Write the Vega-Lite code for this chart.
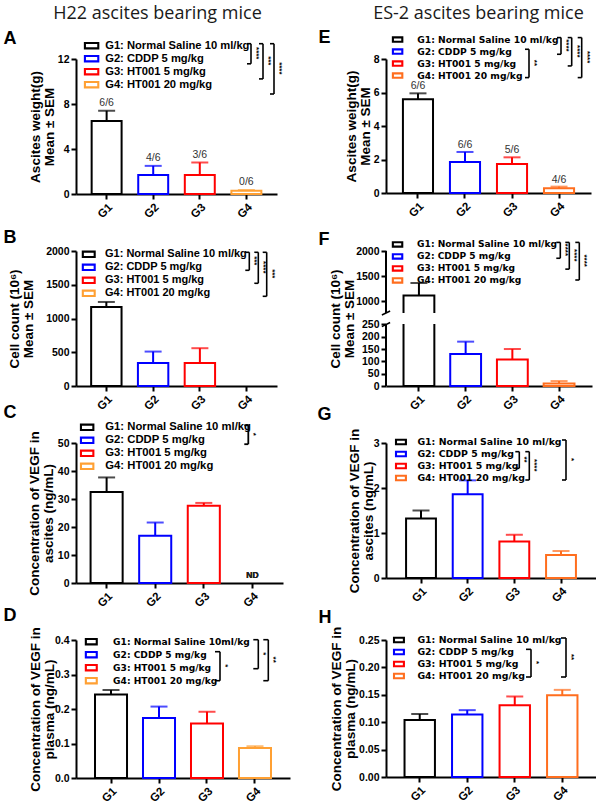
{
  "$schema": "https://vega.github.io/schema/vega-lite/v6.json",
  "background": "white",
  "padding": {"left": 3, "top": 4, "right": 0, "bottom": 0},
  "columns": 2,
  "spacing": {"row": 57, "column": 96},
  "bounds": "flush",
  "resolve": {
    "scale": {"stroke": "independent", "color": "independent"},
    "legend": {"stroke": "independent", "color": "independent"}
  },
  "datasets": {
    "A": [
      {"g": "G1", "mean": 6.5, "err": 7.4, "n": "6/6"},
      {"g": "G2", "mean": 1.7, "err": 2.5, "n": "4/6"},
      {"g": "G3", "mean": 1.7, "err": 2.8, "n": "3/6"},
      {"g": "G4", "mean": 0.3, "err": 0.35, "n": "0/6"}
    ],
    "B": [
      {"g": "G1", "mean": 1170, "err": 1245},
      {"g": "G2", "mean": 340, "err": 510},
      {"g": "G3", "mean": 340, "err": 560}
    ],
    "C": [
      {"g": "G1", "mean": 32.5, "err": 37.7},
      {"g": "G2", "mean": 16.9, "err": 21.6},
      {"g": "G3", "mean": 27.6, "err": 28.6}
    ],
    "D": [
      {"g": "G1", "mean": 0.242, "err": 0.255},
      {"g": "G2", "mean": 0.174, "err": 0.207},
      {"g": "G3", "mean": 0.158, "err": 0.192},
      {"g": "G4", "mean": 0.087, "err": 0.092}
    ],
    "E": [
      {"g": "G1", "mean": 5.6, "err": 5.95, "n": "6/6"},
      {"g": "G2", "mean": 1.85, "err": 2.45, "n": "6/6"},
      {"g": "G3", "mean": 1.73, "err": 2.13, "n": "5/6"},
      {"g": "G4", "mean": 0.28, "err": 0.38, "n": "4/6"}
    ],
    "F": [
      {"g": "G1", "mean": 1110, "err": 1360},
      {"g": "G2", "mean": 130, "err": 180},
      {"g": "G3", "mean": 108, "err": 150},
      {"g": "G4", "mean": 10, "err": 20}
    ],
    "G": [
      {"g": "G1", "mean": 1.32, "err": 1.5},
      {"g": "G2", "mean": 1.86, "err": 2.17},
      {"g": "G3", "mean": 0.81, "err": 0.96},
      {"g": "G4", "mean": 0.51, "err": 0.6}
    ],
    "H": [
      {"g": "G1", "mean": 0.104, "err": 0.115},
      {"g": "G2", "mean": 0.114, "err": 0.122},
      {"g": "G3", "mean": 0.131, "err": 0.147},
      {"g": "G4", "mean": 0.149, "err": 0.159}
    ],
    "Ab": [
      {"a": 1, "b": 2, "m": 1.5, "lvl": 1, "p": "****"},
      {"a": 1, "b": 3, "m": 2, "lvl": 2, "p": "***"},
      {"a": 1, "b": 4, "m": 2.5, "lvl": 3, "p": "****"}
    ],
    "Bb": [
      {"a": 1, "b": 2, "m": 1.5, "lvl": 1, "p": "***"},
      {"a": 1, "b": 3, "m": 2, "lvl": 2, "p": "****"},
      {"a": 1, "b": 4, "m": 2.5, "lvl": 3, "p": "***"}
    ],
    "Cb": [
      {"a": 1, "b": 2, "m": 1.5, "lvl": 1, "p": "*"}
    ],
    "Db": [
      {"a": 2, "b": 4, "m": 3, "lvl": 1, "p": "*"},
      {"a": 1, "b": 3, "m": 2, "lvl": 2, "p": "*"},
      {"a": 1, "b": 4, "m": 2.5, "lvl": 3, "p": "**"}
    ],
    "Eb": [
      {"a": 2, "b": 4, "m": 3, "lvl": 1, "p": "**"},
      {"a": 1, "b": 2, "m": 1.5, "lvl": 2, "p": "****"},
      {"a": 1, "b": 3, "m": 2, "lvl": 3, "p": "****"},
      {"a": 1, "b": 4, "m": 2.5, "lvl": 4, "p": "****"}
    ],
    "Fb": [
      {"a": 1, "b": 2, "m": 1.5, "lvl": 1, "p": "****"},
      {"a": 1, "b": 3, "m": 2, "lvl": 2, "p": "****"},
      {"a": 1, "b": 4, "m": 2.5, "lvl": 3, "p": "****"}
    ],
    "Gb": [
      {"a": 2, "b": 3, "m": 2.5, "lvl": 1, "p": "**"},
      {"a": 2, "b": 4, "m": 3, "lvl": 2, "p": "****"},
      {"a": 1, "b": 4, "m": 2.5, "lvl": 3, "p": "*"}
    ],
    "Hb": [
      {"a": 2, "b": 4, "m": 3, "lvl": 1, "p": "*"},
      {"a": 1, "b": 4, "m": 2.5, "lvl": 2, "p": "**"}
    ]
  },
  "concat": [
    {
      "width": 201,
      "height": 135,
      "resolve": {"scale": {"x": "independent", "y": "independent"}, "axis": {"x": "independent", "y": "independent"}},
      "layer": [
        {
          "data": {"name": "A"},
          "encoding": {
            "x": {"field": "g", "type": "nominal", "title": null, "scale": {"domain": ["G1", "G2", "G3", "G4"], "paddingInner": 0.357, "paddingOuter": 0.336}},
            "y": {"field": "mean", "type": "quantitative", "title": ["Ascites weight(g)", "Mean ± SEM"], "scale": {"domain": [0, 12], "nice": false}, "axis": {"values": [0, 4, 8, 12], "titlePadding": 0.5}}
          },
          "layer": [
            {
              "mark": {"type": "bar", "filled": false, "strokeWidth": 2},
              "encoding": {
                "stroke": {
                  "field": "g", "type": "nominal",
                  "scale": {"domain": ["G1", "G2", "G3", "G4"], "range": ["#000000", "#0000ff", "#ff0000", "#ffa033"]},
                  "legend": {
                    "title": null, "orient": "none", "legendX": 10, "legendY": -18.9, "direction": "vertical",
                    "symbolType": "M-2.33,-1H2.33V1H-2.33Z M-2.13,-0.8V0.8H2.13V-0.8Z", "symbolSize": 36, "symbolStrokeWidth": 1.5,
                    "labelOffset": 8, "rowPadding": 0, "padding": 0, "labelLimit": 400,
                    "labelFont": "Liberation Sans", "labelFontWeight": "bold", "labelFontSize": 11.2, "labelColor": "black",
                    "labelExpr": "datum.label == 'G1' ? 'G1: Normal Saline 10 ml/kg' : datum.label == 'G2' ? 'G2: CDDP 5 mg/kg' : datum.label == 'G3' ? 'G3: HT001 5 mg/kg' : 'G4: HT001 20 mg/kg'"
                  }
                }
              }
            },
            {
              "mark": {"type": "rule", "strokeWidth": 2},
              "encoding": {"y2": {"field": "err"}, "stroke": {"field": "g", "type": "nominal", "legend": null}}
            },
            {
              "mark": {"type": "tick", "size": 17, "thickness": 2},
              "encoding": {
                "y": {"field": "err", "type": "quantitative"},
                "color": {"field": "g", "type": "nominal", "legend": null, "scale": {"domain": ["G1", "G2", "G3", "G4"], "range": ["#000000", "#0000ff", "#ff0000", "#ffa033"]}}
              }
            },
            {
              "mark": {"type": "text", "baseline": "bottom", "dy": -3, "fontSize": 10.5, "color": "#333333"},
              "encoding": {"y": {"field": "err", "type": "quantitative"}, "text": {"field": "n"}}
            }
          ]
        },
        {
          "data": {"name": "Ab"},
          "encoding": {
            "x": {"field": "lvl", "type": "quantitative", "scale": {"domain": [1, 2, 3], "range": [175, 187, 198], "zero": false, "nice": false},
              "axis": {"orient": "top", "domain": false, "ticks": false, "labels": false, "title": "H22 ascites bearing mice", "titleFont": "Open Sans", "titleFontSize": 18, "titleFontWeight": "normal", "titleColor": "#1a1a1a", "titleX": 81, "titleY": -40.5, "titleAlign": "center", "titleBaseline": "alphabetic", "titleAngle": 0}},
            "y": {"field": "a", "type": "quantitative", "scale": {"domain": [1, 4], "range": [-13.3, 32], "zero": false, "nice": false},
              "axis": {"orient": "left", "domain": false, "ticks": false, "labels": false, "title": "A", "titleFontSize": 18, "titleFontWeight": "bold", "titleX": -73, "titleY": -15.3, "titleAlign": "left", "titleBaseline": "alphabetic", "titleAngle": 0}}
          },
          "layer": [
            {"mark": {"type": "rule", "strokeWidth": 1.6, "color": "black", "yOffset": -2, "y2Offset": 3}, "encoding": {"y2": {"field": "b"}}},
            {"mark": {"type": "rule", "strokeWidth": 1.6, "color": "black", "xOffset": -4, "yOffset": -2}, "encoding": {"x2": {"field": "lvl"}}},
            {"mark": {"type": "rule", "strokeWidth": 1.6, "color": "black", "xOffset": -4, "yOffset": 3}, "encoding": {"y": {"field": "b", "type": "quantitative"}, "x2": {"field": "lvl"}}},
            {"mark": {"type": "text", "angle": 90, "xOffset": 5, "fontSize": 8, "fontWeight": "bold", "color": "black"}, "encoding": {"y": {"field": "m", "type": "quantitative"}, "text": {"field": "p"}}}
          ]
        }
      ]
    },
    {
      "width": 205,
      "height": 134,
      "resolve": {"scale": {"x": "independent", "y": "independent"}, "axis": {"x": "independent", "y": "independent"}},
      "layer": [
        {
          "data": {"name": "E"},
          "encoding": {
            "x": {"field": "g", "type": "nominal", "title": null, "scale": {"domain": ["G1", "G2", "G3", "G4"], "paddingInner": 0.36, "paddingOuter": 0.36}},
            "y": {"field": "mean", "type": "quantitative", "title": ["Ascites weight(g)", "Mean ± SEM"], "scale": {"domain": [0, 8], "nice": false}, "axis": {"values": [0, 2, 4, 6, 8], "titlePadding": 0.2}}
          },
          "layer": [
            {
              "mark": {"type": "bar", "filled": false, "strokeWidth": 2},
              "encoding": {
                "stroke": {
                  "field": "g", "type": "nominal",
                  "scale": {"domain": ["G1", "G2", "G3", "G4"], "range": ["#000000", "#0000ff", "#ff0000", "#ff6e1e"]},
                  "legend": {
                    "title": null, "orient": "none", "legendX": 7, "legendY": -24, "direction": "vertical",
                    "symbolType": "M-1.67,-0.83H1.67V0.83H-1.67Z M-1.47,-0.63V0.63H1.47V-0.63Z", "symbolSize": 36, "symbolStrokeWidth": 1.5,
                    "labelOffset": 15, "rowPadding": 0, "padding": 0, "labelLimit": 400,
                    "labelFont": "DejaVu Sans", "labelFontWeight": "bold", "labelFontSize": 9.2, "labelColor": "black",
                    "labelExpr": "datum.label == 'G1' ? 'G1: Normal Saline 10 ml/kg' : datum.label == 'G2' ? 'G2: CDDP 5 mg/kg' : datum.label == 'G3' ? 'G3: HT001 5 mg/kg' : 'G4: HT001 20 mg/kg'"
                  }
                }
              }
            },
            {
              "mark": {"type": "rule", "strokeWidth": 2},
              "encoding": {"y2": {"field": "err"}, "stroke": {"field": "g", "type": "nominal", "legend": null}}
            },
            {
              "mark": {"type": "tick", "size": 17, "thickness": 2},
              "encoding": {
                "y": {"field": "err", "type": "quantitative"},
                "color": {"field": "g", "type": "nominal", "legend": null, "scale": {"domain": ["G1", "G2", "G3", "G4"], "range": ["#000000", "#0000ff", "#ff0000", "#ff6e1e"]}}
              }
            },
            {
              "mark": {"type": "text", "baseline": "bottom", "dy": -2, "fontSize": 10.5, "color": "#333333"},
              "encoding": {"y": {"field": "err", "type": "quantitative"}, "text": {"field": "n"}}
            }
          ]
        },
        {
          "data": {"name": "Eb"},
          "encoding": {
            "x": {"field": "lvl", "type": "quantitative", "scale": {"domain": [1, 2, 3, 4], "range": [143, 175, 185.7, 195.7], "zero": false, "nice": false},
              "axis": {"orient": "top", "domain": false, "ticks": false, "labels": false, "title": "ES-2 ascites bearing mice", "titleFont": "Open Sans", "titleFontSize": 18, "titleFontWeight": "normal", "titleColor": "#1a1a1a", "titleX": 92, "titleY": -40.7, "titleAlign": "center", "titleBaseline": "alphabetic", "titleAngle": 0}},
            "y": {"field": "a", "type": "quantitative", "scale": {"domain": [1, 4], "range": [-19.4, 15.6], "zero": false, "nice": false},
              "axis": {"orient": "left", "domain": false, "ticks": false, "labels": false, "title": "E", "titleFontSize": 18, "titleFontWeight": "bold", "titleX": -68, "titleY": -17, "titleAlign": "left", "titleBaseline": "alphabetic", "titleAngle": 0}}
          },
          "layer": [
            {"mark": {"type": "rule", "strokeWidth": 1.6, "color": "black", "yOffset": -2, "y2Offset": 3}, "encoding": {"y2": {"field": "b"}}},
            {"mark": {"type": "rule", "strokeWidth": 1.6, "color": "black", "xOffset": -4, "yOffset": -2}, "encoding": {"x2": {"field": "lvl"}}},
            {"mark": {"type": "rule", "strokeWidth": 1.6, "color": "black", "xOffset": -4, "yOffset": 3}, "encoding": {"y": {"field": "b", "type": "quantitative"}, "x2": {"field": "lvl"}}},
            {"mark": {"type": "text", "angle": 90, "xOffset": 5, "fontSize": 8, "fontWeight": "bold", "color": "black"}, "encoding": {"y": {"field": "m", "type": "quantitative"}, "text": {"field": "p"}}}
          ]
        }
      ]
    },
    {
      "width": 201,
      "height": 135,
      "resolve": {"scale": {"x": "independent", "y": "independent"}, "axis": {"x": "independent", "y": "independent"}},
      "layer": [
        {
          "data": {"name": "B"},
          "encoding": {
            "x": {"field": "g", "type": "nominal", "title": null, "scale": {"domain": ["G1", "G2", "G3", "G4"], "paddingInner": 0.35, "paddingOuter": 0.324}},
            "y": {"field": "mean", "type": "quantitative", "title": ["Cell count (10⁶)", "Mean ± SEM"], "scale": {"domain": [0, 2000], "nice": false}, "axis": {"values": [0, 500, 1000, 1500, 2000], "format": "d", "titlePadding": 10.6}}
          },
          "layer": [
            {
              "mark": {"type": "bar", "filled": false, "strokeWidth": 2},
              "encoding": {
                "stroke": {
                  "field": "g", "type": "nominal",
                  "scale": {"domain": ["G1", "G2", "G3", "G4"], "range": ["#000000", "#0000ff", "#ff0000", "#ffa033"]},
                  "legend": {
                    "title": null, "orient": "none", "legendX": 7.25, "legendY": -2.2, "direction": "vertical",
                    "symbolType": "M-2.08,-1H2.08V1H-2.08Z M-1.88,-0.8V0.8H1.88V-0.8Z", "symbolSize": 36, "symbolStrokeWidth": 1.5,
                    "labelOffset": 10.75, "rowPadding": 0, "padding": 0, "labelLimit": 400,
                    "labelFont": "Liberation Sans", "labelFontWeight": "bold", "labelFontSize": 11, "labelColor": "black",
                    "labelExpr": "datum.label == 'G1' ? 'G1: Normal Saline 10 ml/kg' : datum.label == 'G2' ? 'G2: CDDP 5 mg/kg' : datum.label == 'G3' ? 'G3: HT001 5 mg/kg' : 'G4: HT001 20 mg/kg'"
                  }
                }
              }
            },
            {
              "mark": {"type": "rule", "strokeWidth": 2},
              "encoding": {"y2": {"field": "err"}, "stroke": {"field": "g", "type": "nominal", "legend": null}}
            },
            {
              "mark": {"type": "tick", "size": 17, "thickness": 2},
              "encoding": {
                "y": {"field": "err", "type": "quantitative"},
                "color": {"field": "g", "type": "nominal", "legend": null, "scale": {"domain": ["G1", "G2", "G3", "G4"], "range": ["#000000", "#0000ff", "#ff0000", "#ffa033"]}}
              }
            }
          ]
        },
        {
          "data": {"name": "Bb"},
          "encoding": {
            "x": {"field": "lvl", "type": "quantitative", "scale": {"domain": [1, 2, 3], "range": [173.3, 182.3, 190.7], "zero": false, "nice": false}, "axis": null},
            "y": {"field": "a", "type": "quantitative", "scale": {"domain": [1, 4], "range": [3.3, 42.3], "zero": false, "nice": false},
              "axis": {"orient": "left", "domain": false, "ticks": false, "labels": false, "title": "B", "titleFontSize": 18, "titleFontWeight": "bold", "titleX": -73, "titleY": -8.7, "titleAlign": "left", "titleBaseline": "alphabetic", "titleAngle": 0}}
          },
          "layer": [
            {"mark": {"type": "rule", "strokeWidth": 1.6, "color": "black", "yOffset": -2, "y2Offset": 3}, "encoding": {"y2": {"field": "b"}}},
            {"mark": {"type": "rule", "strokeWidth": 1.6, "color": "black", "xOffset": -4, "yOffset": -2}, "encoding": {"x2": {"field": "lvl"}}},
            {"mark": {"type": "rule", "strokeWidth": 1.6, "color": "black", "xOffset": -4, "yOffset": 3}, "encoding": {"y": {"field": "b", "type": "quantitative"}, "x2": {"field": "lvl"}}},
            {"mark": {"type": "text", "angle": 90, "xOffset": 5, "fontSize": 8, "fontWeight": "bold", "color": "black"}, "encoding": {"y": {"field": "m", "type": "quantitative"}, "text": {"field": "p"}}}
          ]
        }
      ]
    },
    {
      "width": 206,
      "height": 135,
      "resolve": {"scale": {"x": "independent", "y": "independent"}, "axis": {"x": "independent", "y": "independent"}},
      "layer": [
        {
          "data": {"name": "F"},
          "resolve": {"scale": {"x": "independent"}, "axis": {"x": "independent"}},
          "layer": [
            {
              "mark": {"type": "bar", "filled": false, "strokeWidth": 2},
              "encoding": {
                "x": {"field": "g", "type": "nominal", "title": null, "scale": {"domain": ["G1", "G2", "G3", "G4"], "paddingInner": 0.34, "paddingOuter": 0.375}},
                "y": {"field": "mean", "type": "quantitative", "title": ["Cell count (10⁶)", "Mean ± SEM"], "scale": {"domain": [0, 250, 760, 2000], "range": [135, 73.4, 62, 0], "nice": false, "zero": false}, "axis": {"values": [0, 50, 100, 150, 200, 250, 1000, 1500, 2000], "format": "d", "domain": false, "labelOverlap": false, "titlePadding": -0.4}},
                "stroke": {
                  "field": "g", "type": "nominal",
                  "scale": {"domain": ["G1", "G2", "G3", "G4"], "range": ["#000000", "#0000ff", "#ff0000", "#ff6e1e"]},
                  "legend": {
                    "title": null, "orient": "none", "legendX": 7, "legendY": -11.15, "direction": "vertical",
                    "symbolType": "M-1.67,-0.83H1.67V0.83H-1.67Z M-1.47,-0.63V0.63H1.47V-0.63Z", "symbolSize": 36, "symbolStrokeWidth": 1.5,
                    "labelOffset": 15, "rowPadding": 0, "padding": 0, "labelLimit": 400,
                    "labelFont": "DejaVu Sans", "labelFontWeight": "bold", "labelFontSize": 9.1, "labelColor": "black",
                    "labelExpr": "datum.label == 'G1' ? 'G1: Normal Saline 10 ml/kg' : datum.label == 'G2' ? 'G2: CDDP 5 mg/kg' : datum.label == 'G3' ? 'G3: HT001 5 mg/kg' : 'G4: HT001 20 mg/kg'"
                  }
                }
              }
            },
            {
              "mark": {"type": "rule", "strokeWidth": 2},
              "encoding": {
                "x": {"field": "g", "type": "nominal", "axis": null, "scale": {"domain": ["G1", "G2", "G3", "G4"], "paddingInner": 0.34, "paddingOuter": 0.375}},
                "y": {"field": "mean", "type": "quantitative", "title": ["Cell count (10⁶)", "Mean ± SEM"], "axis": {"values": [0, 50, 100, 150, 200, 250, 1000, 1500, 2000], "format": "d", "domain": false, "labelOverlap": false, "titlePadding": -0.4}},
                "y2": {"field": "err"},
                "stroke": {"field": "g", "type": "nominal", "legend": null}
              }
            },
            {
              "mark": {"type": "tick", "size": 17, "thickness": 2},
              "encoding": {
                "x": {"field": "g", "type": "nominal", "axis": null, "scale": {"domain": ["G1", "G2", "G3", "G4"], "paddingInner": 0.34, "paddingOuter": 0.375}},
                "y": {"field": "err", "type": "quantitative", "title": ["Cell count (10⁶)", "Mean ± SEM"], "axis": {"values": [0, 50, 100, 150, 200, 250, 1000, 1500, 2000], "format": "d", "domain": false, "labelOverlap": false, "titlePadding": -0.4}},
                "color": {"field": "g", "type": "nominal", "legend": null, "scale": {"domain": ["G1", "G2", "G3", "G4"], "range": ["#000000", "#0000ff", "#ff0000", "#ff6e1e"]}}
              }
            },
            {
              "data": {"values": [{}]},
              "mark": {"type": "rect", "color": "white", "xOffset": -4, "x2Offset": -4},
              "encoding": {"y": {"datum": 265, "type": "quantitative", "title": ["Cell count (10⁶)", "Mean ± SEM"], "axis": {"values": [0, 50, 100, 150, 200, 250, 1000, 1500, 2000], "format": "d", "domain": false, "labelOverlap": false, "titlePadding": -0.4}}, "y2": {"datum": 757}}
            },
            {
              "data": {"values": [{}]},
              "mark": {"type": "rule", "strokeWidth": 2, "color": "black"},
              "encoding": {"x": {"datum": 0, "type": "quantitative", "scale": {"domain": [0, 1]}, "axis": null}, "y": {"datum": 0, "type": "quantitative", "title": ["Cell count (10⁶)", "Mean ± SEM"], "axis": {"values": [0, 50, 100, 150, 200, 250, 1000, 1500, 2000], "format": "d", "domain": false, "labelOverlap": false, "titlePadding": -0.4}}, "y2": {"datum": 262}}
            },
            {
              "data": {"values": [{}]},
              "mark": {"type": "rule", "strokeWidth": 2, "color": "black"},
              "encoding": {"x": {"datum": 0, "type": "quantitative", "scale": {"domain": [0, 1]}, "axis": null}, "y": {"datum": 760, "type": "quantitative", "title": ["Cell count (10⁶)", "Mean ± SEM"], "axis": {"values": [0, 50, 100, 150, 200, 250, 1000, 1500, 2000], "format": "d", "domain": false, "labelOverlap": false, "titlePadding": -0.4}}, "y2": {"datum": 2000}}
            },
            {
              "data": {"values": [{}]},
              "mark": {"type": "rule", "strokeWidth": 1.5, "color": "black"},
              "encoding": {"x": {"datum": -0.02, "type": "quantitative", "scale": {"domain": [0, 1]}, "axis": null}, "x2": {"datum": 0.02}, "y": {"datum": 670, "type": "quantitative", "title": ["Cell count (10⁶)", "Mean ± SEM"], "axis": {"values": [0, 50, 100, 150, 200, 250, 1000, 1500, 2000], "format": "d", "domain": false, "labelOverlap": false, "titlePadding": -0.4}}, "y2": {"datum": 800}}
            },
            {
              "data": {"values": [{}]},
              "mark": {"type": "rule", "strokeWidth": 1.5, "color": "black"},
              "encoding": {"x": {"datum": -0.02, "type": "quantitative", "scale": {"domain": [0, 1]}, "axis": null}, "x2": {"datum": 0.02}, "y": {"datum": 241, "type": "quantitative", "title": ["Cell count (10⁶)", "Mean ± SEM"], "axis": {"values": [0, 50, 100, 150, 200, 250, 1000, 1500, 2000], "format": "d", "domain": false, "labelOverlap": false, "titlePadding": -0.4}}, "y2": {"datum": 335}}
            }
          ]
        },
        {
          "data": {"name": "Fb"},
          "encoding": {
            "x": {"field": "lvl", "type": "quantitative", "scale": {"domain": [1, 2, 3], "range": [174.3, 183.3, 193.3], "zero": false, "nice": false}, "axis": null},
            "y": {"field": "a", "type": "quantitative", "scale": {"domain": [1, 4], "range": [-6.6, 26], "zero": false, "nice": false},
              "axis": {"orient": "left", "domain": false, "ticks": false, "labels": false, "title": "F", "titleFontSize": 18, "titleFontWeight": "bold", "titleX": -68, "titleY": -6.3, "titleAlign": "left", "titleBaseline": "alphabetic", "titleAngle": 0}}
          },
          "layer": [
            {"mark": {"type": "rule", "strokeWidth": 1.6, "color": "black", "yOffset": -2, "y2Offset": 3}, "encoding": {"y2": {"field": "b"}}},
            {"mark": {"type": "rule", "strokeWidth": 1.6, "color": "black", "xOffset": -4, "yOffset": -2}, "encoding": {"x2": {"field": "lvl"}}},
            {"mark": {"type": "rule", "strokeWidth": 1.6, "color": "black", "xOffset": -4, "yOffset": 3}, "encoding": {"y": {"field": "b", "type": "quantitative"}, "x2": {"field": "lvl"}}},
            {"mark": {"type": "text", "angle": 90, "xOffset": 5, "fontSize": 8, "fontWeight": "bold", "color": "black"}, "encoding": {"y": {"field": "m", "type": "quantitative"}, "text": {"field": "p"}}}
          ]
        }
      ]
    },
    {
      "width": 207,
      "height": 140,
      "resolve": {"scale": {"x": "independent", "y": "independent"}, "axis": {"x": "independent", "y": "independent"}},
      "layer": [
        {
          "data": {"name": "C"},
          "encoding": {
            "x": {"field": "g", "type": "nominal", "title": null, "scale": {"domain": ["G1", "G2", "G3", "G4"], "paddingInner": 0.34, "paddingOuter": 0.3}},
            "y": {"field": "mean", "type": "quantitative", "title": ["Concentration of VEGF in", "ascites (ng/mL)"], "scale": {"domain": [0, 50], "nice": false}, "axis": {"values": [0, 10, 20, 30, 40, 50], "titlePadding": 2.3}}
          },
          "layer": [
            {
              "mark": {"type": "bar", "filled": false, "strokeWidth": 2},
              "encoding": {
                "stroke": {
                  "field": "g", "type": "nominal",
                  "scale": {"domain": ["G1", "G2", "G3", "G4"], "range": ["#000000", "#0000ff", "#ff0000", "#ffa033"]},
                  "legend": {
                    "title": null, "orient": "none", "legendX": 5.5, "legendY": -21.35, "direction": "vertical",
                    "symbolType": "M-2.17,-1H2.17V1H-2.17Z M-1.97,-0.8V0.8H1.97V-0.8Z", "symbolSize": 36, "symbolStrokeWidth": 1.5,
                    "labelOffset": 12.5, "rowPadding": 0, "padding": 0, "labelLimit": 400,
                    "labelFont": "Liberation Sans", "labelFontWeight": "bold", "labelFontSize": 11.3, "labelColor": "black",
                    "labelExpr": "datum.label == 'G1' ? 'G1: Normal Saline 10 ml/kg' : datum.label == 'G2' ? 'G2: CDDP 5 mg/kg' : datum.label == 'G3' ? 'G3: HT001 5 mg/kg' : 'G4: HT001 20 mg/kg'"
                  }
                }
              }
            },
            {
              "mark": {"type": "rule", "strokeWidth": 2},
              "encoding": {"y2": {"field": "err"}, "stroke": {"field": "g", "type": "nominal", "legend": null}}
            },
            {
              "mark": {"type": "tick", "size": 17, "thickness": 2},
              "encoding": {
                "y": {"field": "err", "type": "quantitative"},
                "color": {"field": "g", "type": "nominal", "legend": null, "scale": {"domain": ["G1", "G2", "G3", "G4"], "range": ["#000000", "#0000ff", "#ff0000", "#ffa033"]}}
              }
            },
            {
              "mark": {"type": "text", "text": "ND", "baseline": "bottom", "dy": -3, "fontSize": 8.5, "fontWeight": "bold", "color": "#222222"},
              "encoding": {"x": {"datum": "G4", "type": "nominal"}, "y": {"datum": 0, "type": "quantitative"}}
            }
          ]
        },
        {
          "data": {"name": "Cb"},
          "encoding": {
            "x": {"field": "lvl", "type": "quantitative", "scale": {"domain": [1, 2], "range": [172.3, 182.3], "zero": false, "nice": false}, "axis": null},
            "y": {"field": "a", "type": "quantitative", "scale": {"domain": [1, 4], "range": [-15.7, 26], "zero": false, "nice": false},
              "axis": {"orient": "left", "domain": false, "ticks": false, "labels": false, "title": "C", "titleFontSize": 18, "titleFontWeight": "bold", "titleX": -73, "titleY": -25.7, "titleAlign": "left", "titleBaseline": "alphabetic", "titleAngle": 0}}
          },
          "layer": [
            {"mark": {"type": "rule", "strokeWidth": 1.8, "color": "black", "yOffset": -2, "y2Offset": 3}, "encoding": {"y2": {"field": "b"}}},
            {"mark": {"type": "rule", "strokeWidth": 1.8, "color": "black", "xOffset": -4, "yOffset": -2}, "encoding": {"x2": {"field": "lvl"}}},
            {"mark": {"type": "rule", "strokeWidth": 1.8, "color": "black", "xOffset": -4, "yOffset": 3}, "encoding": {"y": {"field": "b", "type": "quantitative"}, "x2": {"field": "lvl"}}},
            {"mark": {"type": "text", "angle": 90, "xOffset": 5, "fontSize": 8, "fontWeight": "bold", "color": "black"}, "encoding": {"y": {"field": "m", "type": "quantitative"}, "text": {"field": "p"}}}
          ]
        }
      ]
    },
    {
      "width": 210,
      "height": 135,
      "resolve": {"scale": {"x": "independent", "y": "independent"}, "axis": {"x": "independent", "y": "independent"}},
      "layer": [
        {
          "data": {"name": "G"},
          "encoding": {
            "x": {"field": "g", "type": "nominal", "title": null, "scale": {"domain": ["G1", "G2", "G3", "G4"], "paddingInner": 0.36, "paddingOuter": 0.43}},
            "y": {"field": "mean", "type": "quantitative", "title": ["Concentration of VEGF in", "ascites (ng/mL)"], "scale": {"domain": [0, 3], "nice": false}, "axis": {"values": [0, 1, 2, 3], "titlePadding": -2.8}}
          },
          "layer": [
            {
              "mark": {"type": "bar", "filled": false, "strokeWidth": 2},
              "encoding": {
                "stroke": {
                  "field": "g", "type": "nominal",
                  "scale": {"domain": ["G1", "G2", "G3", "G4"], "range": ["#000000", "#0000ff", "#ff0000", "#ff6e1e"]},
                  "legend": {
                    "title": null, "orient": "none", "legendX": 10.25, "legendY": -5.7, "direction": "vertical",
                    "symbolType": "M-1.75,-0.83H1.75V0.83H-1.75Z M-1.55,-0.63V0.63H1.55V-0.63Z", "symbolSize": 36, "symbolStrokeWidth": 1.5,
                    "labelOffset": 11.75, "rowPadding": 0, "padding": 0, "labelLimit": 400,
                    "labelFont": "DejaVu Sans", "labelFontWeight": "bold", "labelFontSize": 9.4, "labelColor": "black",
                    "labelExpr": "datum.label == 'G1' ? 'G1: Normal Saline 10 ml/kg' : datum.label == 'G2' ? 'G2: CDDP 5 mg/kg' : datum.label == 'G3' ? 'G3: HT001 5 mg/kg' : 'G4: HT001 20 mg/kg'"
                  }
                }
              }
            },
            {
              "mark": {"type": "rule", "strokeWidth": 2},
              "encoding": {"y2": {"field": "err"}, "stroke": {"field": "g", "type": "nominal", "legend": null}}
            },
            {
              "mark": {"type": "tick", "size": 17, "thickness": 2},
              "encoding": {
                "y": {"field": "err", "type": "quantitative"},
                "color": {"field": "g", "type": "nominal", "legend": null, "scale": {"domain": ["G1", "G2", "G3", "G4"], "range": ["#000000", "#0000ff", "#ff0000", "#ff6e1e"]}}
              }
            }
          ]
        },
        {
          "data": {"name": "Gb"},
          "encoding": {
            "x": {"field": "lvl", "type": "quantitative", "scale": {"domain": [1, 2, 3], "range": [133.3, 143.3, 180], "zero": false, "nice": false}, "axis": null},
            "y": {"field": "a", "type": "quantitative", "scale": {"domain": [1, 4], "range": [-1, 34], "zero": false, "nice": false},
              "axis": {"orient": "left", "domain": false, "ticks": false, "labels": false, "title": "G", "titleFontSize": 18, "titleFontWeight": "bold", "titleX": -69, "titleY": -23.3, "titleAlign": "left", "titleBaseline": "alphabetic", "titleAngle": 0}}
          },
          "layer": [
            {"mark": {"type": "rule", "strokeWidth": 1.6, "color": "black", "yOffset": -2, "y2Offset": 3}, "encoding": {"y2": {"field": "b"}}},
            {"mark": {"type": "rule", "strokeWidth": 1.6, "color": "black", "xOffset": -4, "yOffset": -2}, "encoding": {"x2": {"field": "lvl"}}},
            {"mark": {"type": "rule", "strokeWidth": 1.6, "color": "black", "xOffset": -4, "yOffset": 3}, "encoding": {"y": {"field": "b", "type": "quantitative"}, "x2": {"field": "lvl"}}},
            {"mark": {"type": "text", "angle": 90, "xOffset": 5, "fontSize": 8, "fontWeight": "bold", "color": "black"}, "encoding": {"y": {"field": "m", "type": "quantitative"}, "text": {"field": "p"}}}
          ]
        }
      ]
    },
    {
      "width": 214,
      "height": 138,
      "resolve": {"scale": {"x": "independent", "y": "independent"}, "axis": {"x": "independent", "y": "independent"}},
      "layer": [
        {
          "data": {"name": "D"},
          "encoding": {
            "x": {"field": "g", "type": "nominal", "title": null, "scale": {"domain": ["G1", "G2", "G3", "G4"], "paddingInner": 0.333, "paddingOuter": 0.396}},
            "y": {"field": "mean", "type": "quantitative", "title": ["Concentration of VEGF in", "plasma (ng/mL)"], "scale": {"domain": [0, 0.4], "nice": false}, "axis": {"values": [0, 0.1, 0.2, 0.3, 0.4], "format": ".1f", "titlePadding": -1.6}}
          },
          "layer": [
            {
              "mark": {"type": "bar", "filled": false, "strokeWidth": 2},
              "encoding": {
                "stroke": {
                  "field": "g", "type": "nominal",
                  "scale": {"domain": ["G1", "G2", "G3", "G4"], "range": ["#000000", "#0000ff", "#ff0000", "#ffa033"]},
                  "legend": {
                    "title": null, "orient": "none", "legendX": 10.75, "legendY": -2.85, "direction": "vertical",
                    "symbolType": "M-1.92,-1H1.92V1H-1.92Z M-1.72,-0.8V0.8H1.72V-0.8Z", "symbolSize": 36, "symbolStrokeWidth": 1.5,
                    "labelOffset": 17.25, "rowPadding": 0, "padding": 0, "labelLimit": 400,
                    "labelFont": "DejaVu Sans", "labelFontWeight": "bold", "labelFontSize": 9.1, "labelColor": "black",
                    "labelExpr": "datum.label == 'G1' ? 'G1: Normal Saline 10ml/kg' : datum.label == 'G2' ? 'G2: CDDP 5 mg/kg' : datum.label == 'G3' ? 'G3: HT001 5 mg/kg' : 'G4: HT001 20 mg/kg'"
                  }
                }
              }
            },
            {
              "mark": {"type": "rule", "strokeWidth": 2},
              "encoding": {"y2": {"field": "err"}, "stroke": {"field": "g", "type": "nominal", "legend": null}}
            },
            {
              "mark": {"type": "tick", "size": 17, "thickness": 2},
              "encoding": {
                "y": {"field": "err", "type": "quantitative"},
                "color": {"field": "g", "type": "nominal", "legend": null, "scale": {"domain": ["G1", "G2", "G3", "G4"], "range": ["#000000", "#0000ff", "#ff0000", "#ffa033"]}}
              }
            }
          ]
        },
        {
          "data": {"name": "Db"},
          "encoding": {
            "x": {"field": "lvl", "type": "quantitative", "scale": {"domain": [1, 2, 3], "range": [144, 182.3, 192.3], "zero": false, "nice": false}, "axis": null},
            "y": {"field": "a", "type": "quantitative", "scale": {"domain": [1, 4], "range": [1.7, 37.7], "zero": false, "nice": false},
              "axis": {"orient": "left", "domain": false, "ticks": false, "labels": false, "title": "D", "titleFontSize": 18, "titleFontWeight": "bold", "titleX": -73, "titleY": -19.3, "titleAlign": "left", "titleBaseline": "alphabetic", "titleAngle": 0}}
          },
          "layer": [
            {"mark": {"type": "rule", "strokeWidth": 1.6, "color": "black", "yOffset": -2, "y2Offset": 3}, "encoding": {"y2": {"field": "b"}}},
            {"mark": {"type": "rule", "strokeWidth": 1.6, "color": "black", "xOffset": -5, "yOffset": -2}, "encoding": {"x2": {"field": "lvl"}}},
            {"mark": {"type": "rule", "strokeWidth": 1.6, "color": "black", "xOffset": -5, "yOffset": 3}, "encoding": {"y": {"field": "b", "type": "quantitative"}, "x2": {"field": "lvl"}}},
            {"mark": {"type": "text", "angle": 90, "xOffset": 5, "fontSize": 8, "fontWeight": "bold", "color": "black"}, "encoding": {"y": {"field": "m", "type": "quantitative"}, "text": {"field": "p"}}}
          ]
        }
      ]
    },
    {
      "width": 210,
      "height": 137,
      "resolve": {"scale": {"x": "independent", "y": "independent"}, "axis": {"x": "independent", "y": "independent"}},
      "layer": [
        {
          "data": {"name": "H"},
          "encoding": {
            "x": {"field": "g", "type": "nominal", "title": null, "scale": {"domain": ["G1", "G2", "G3", "G4"], "paddingInner": 0.36, "paddingOuter": 0.39}},
            "y": {"field": "mean", "type": "quantitative", "title": ["Concentration of VEGF in", "plasma (ng/mL)"], "scale": {"domain": [0, 0.25], "nice": false}, "axis": {"values": [0, 0.05, 0.1, 0.15, 0.2, 0.25], "format": ".2f", "titlePadding": 1}}
          },
          "layer": [
            {
              "mark": {"type": "bar", "filled": false, "strokeWidth": 2},
              "encoding": {
                "stroke": {
                  "field": "g", "type": "nominal",
                  "scale": {"domain": ["G1", "G2", "G3", "G4"], "range": ["#000000", "#0000ff", "#ff0000", "#ff6e1e"]},
                  "legend": {
                    "title": null, "orient": "none", "legendX": 8.25, "legendY": -4.7, "direction": "vertical",
                    "symbolType": "M-1.75,-0.83H1.75V0.83H-1.75Z M-1.55,-0.63V0.63H1.55V-0.63Z", "symbolSize": 36, "symbolStrokeWidth": 1.5,
                    "labelOffset": 13.75, "rowPadding": 0, "padding": 0, "labelLimit": 400,
                    "labelFont": "DejaVu Sans", "labelFontWeight": "bold", "labelFontSize": 9.4, "labelColor": "black",
                    "labelExpr": "datum.label == 'G1' ? 'G1: Normal Saline 10 ml/kg' : datum.label == 'G2' ? 'G2: CDDP 5 mg/kg' : datum.label == 'G3' ? 'G3: HT001 5 mg/kg' : 'G4: HT001 20 mg/kg'"
                  }
                }
              }
            },
            {
              "mark": {"type": "rule", "strokeWidth": 2},
              "encoding": {"y2": {"field": "err"}, "stroke": {"field": "g", "type": "nominal", "legend": null}}
            },
            {
              "mark": {"type": "tick", "size": 17, "thickness": 2},
              "encoding": {
                "y": {"field": "err", "type": "quantitative"},
                "color": {"field": "g", "type": "nominal", "legend": null, "scale": {"domain": ["G1", "G2", "G3", "G4"], "range": ["#000000", "#0000ff", "#ff0000", "#ff6e1e"]}}
              }
            }
          ]
        },
        {
          "data": {"name": "Hb"},
          "encoding": {
            "x": {"field": "lvl", "type": "quantitative", "scale": {"domain": [1, 2], "range": [145, 180], "zero": false, "nice": false}, "axis": null},
            "y": {"field": "a", "type": "quantitative", "scale": {"domain": [1, 4], "range": [0, 34], "zero": false, "nice": false},
              "axis": {"orient": "left", "domain": false, "ticks": false, "labels": false, "title": "H", "titleFontSize": 18, "titleFontWeight": "bold", "titleX": -68, "titleY": -17.7, "titleAlign": "left", "titleBaseline": "alphabetic", "titleAngle": 0}}
          },
          "layer": [
            {"mark": {"type": "rule", "strokeWidth": 1.6, "color": "black", "yOffset": -2, "y2Offset": 3}, "encoding": {"y2": {"field": "b"}}},
            {"mark": {"type": "rule", "strokeWidth": 1.6, "color": "black", "xOffset": -5, "yOffset": -2}, "encoding": {"x2": {"field": "lvl"}}},
            {"mark": {"type": "rule", "strokeWidth": 1.6, "color": "black", "xOffset": -5, "yOffset": 3}, "encoding": {"y": {"field": "b", "type": "quantitative"}, "x2": {"field": "lvl"}}},
            {"mark": {"type": "text", "angle": 90, "xOffset": 5, "fontSize": 8, "fontWeight": "bold", "color": "black"}, "encoding": {"y": {"field": "m", "type": "quantitative"}, "text": {"field": "p"}}}
          ]
        }
      ]
    }
  ],
  "config": {
    "view": {"stroke": null},
    "font": "Liberation Sans",
    "axis": {
      "grid": false, "domainColor": "black", "domainWidth": 2, "tickColor": "black", "tickWidth": 2, "tickSize": 5,
      "labelPadding": 2, "labelFont": "Liberation Sans", "labelFontWeight": "bold", "labelFontSize": 10.5, "labelColor": "black",
      "titleFont": "Liberation Sans", "titleFontWeight": "bold", "titleFontSize": 13.5, "titleLineHeight": 14, "titleColor": "black",
      "zindex": 1
    },
    "axisX": {"labelAngle": -45, "labelFontSize": 11.5, "labelPadding": 2},
    "text": {"font": "Liberation Sans"}
  }
}
